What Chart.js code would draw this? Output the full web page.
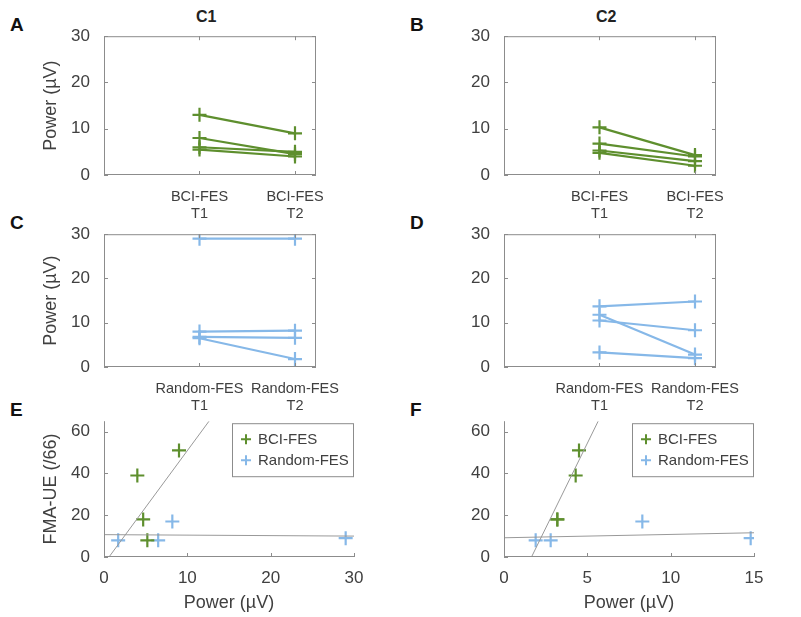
<!DOCTYPE html>
<html lang="en">
<head>
<meta charset="UTF-8">
<title>Power panels</title>
<script src="https://cdn.jsdelivr.net/npm/chart.js"></script>
<style>
  body { margin: 0; background: #fff; font-family: "Liberation Sans", Arial, sans-serif; }
  .box { position: absolute; }
  .lab { position: absolute; font-weight: bold; font-size: 19px; color: #111; }
  .ttl { position: absolute; font-weight: bold; font-size: 16px; color: #222; }
</style>
</head>
<body>
<div class="lab" style="left:10px;top:14px">A</div>
<div class="lab" style="left:410px;top:14px">B</div>
<div class="lab" style="left:10px;top:212px">C</div>
<div class="lab" style="left:410px;top:212px">D</div>
<div class="lab" style="left:10px;top:399px">E</div>
<div class="lab" style="left:410px;top:399px">F</div>
<div class="ttl" style="left:196px;top:8px">C1</div>
<div class="ttl" style="left:596px;top:8px">C2</div>

<div class="box" style="left:40px;top:27px;width:320px;height:200px"><canvas id="cA"></canvas></div>
<div class="box" style="left:440px;top:27px;width:320px;height:200px"><canvas id="cB"></canvas></div>
<div class="box" style="left:40px;top:225px;width:320px;height:194px"><canvas id="cC"></canvas></div>
<div class="box" style="left:440px;top:225px;width:320px;height:194px"><canvas id="cD"></canvas></div>
<div class="box" style="left:40px;top:412px;width:330px;height:204px"><canvas id="cE"></canvas></div>
<div class="box" style="left:440px;top:412px;width:330px;height:204px"><canvas id="cF"></canvas></div>

<script>
// panel A/B (BCI-FES), C/D (Random-FES): T1 -> T2 power per subject
const c1BciT1 = [13, 8, 6, 5.5];
const c1BciT2 = [9, 4.5, 5, 4];
const c2BciT1 = [10.3, 6.8, 5.3, 4.8];
const c2BciT2 = [4.3, 4, 3, 2];
const c1RndT1 = [29, 8, 6.8, 6.5];
const c1RndT2 = [29, 8.2, 6.6, 1.8];
const c2RndT1 = [13.7, 10.5, 11.8, 3.3];
const c2RndT2 = [14.8, 8.3, 2.8, 2.0];
const bciLabels = [['BCI-FES', 'T1'], ['BCI-FES', 'T2']];
const rndLabels = [['Random-FES', 'T1'], ['Random-FES', 'T2']];
const powerTicks = [0, 10, 20, 30];

// panel E/F: power vs FMA-UE
const eBciPow = [4, 4.7, 5.2, 9];
const eBciFma = [39, 18, 8, 51];
const eRndPow = [1.7, 6.5, 8.2, 29];
const eRndFma = [8, 8, 17, 9];
const eBciFit = [[0.6, 0], [12.6, 65]];
const eRndFit = [[0, 10.7], [30, 10]];
const fBciPow = [3.2, 4.3, 4.5, 3.2];
const fBciFma = [18, 39, 51, 18];
const fRndPow = [1.9, 2.8, 8.3, 14.8];
const fRndFma = [8, 8, 17, 9];
const fBciFit = [[1.65, 0], [5.65, 65]];
const fRndFit = [[0, 9.2], [15, 11.6]];

const GREEN = '#5e8f2e';
const BLUE = '#86b8e8';
const AXIS = '#8c8c8c';
const TXT = '#404040';
const FAM = '"Liberation Sans", Arial, sans-serif';
const FONT = { family: FAM, size: 17 };
const CATFONT = { family: FAM, size: 14.5 };

const framePlugin = {
  id: 'frame',
  afterDraw(chart, args, opts) {
    const a = chart.chartArea, ctx = chart.ctx;
    ctx.save();
    ctx.strokeStyle = AXIS;
    ctx.lineWidth = 1;
    if (opts.box) ctx.strokeRect(a.left + 0.5, a.top + 0.5, a.width - 1, a.height - 1);
    else {
      ctx.beginPath();
      ctx.moveTo(a.left + 0.5, a.top); ctx.lineTo(a.left + 0.5, a.bottom - 0.5); ctx.lineTo(a.right, a.bottom - 0.5);
      ctx.stroke();
    }
    const ys = chart.scales.y;
    ctx.beginPath();
    ys.ticks.forEach(t => {
      const p = Math.round(ys.getPixelForValue(t.value)) + 0.5;
      ctx.moveTo(a.left, p); ctx.lineTo(a.left + 4, p);
      if (opts.box) { ctx.moveTo(a.right, p); ctx.lineTo(a.right - 4, p); }
    });
    const xs = chart.scales.x;
    xs.ticks.forEach(t => {
      const p = Math.round(xs.getPixelForValue(t.value)) + 0.5;
      ctx.moveTo(p, a.bottom); ctx.lineTo(p, a.bottom - 4);
      if (opts.box) { ctx.moveTo(p, a.top); ctx.lineTo(p, a.top + 4); }
    });
    ctx.stroke();
    if (opts.legend) {
      const lx = a.right - 122, ly = a.top + 2, w = 122, h = 54;
      ctx.fillStyle = '#fff';
      ctx.fillRect(lx, ly, w, h);
      ctx.strokeRect(lx + 0.5, ly + 0.5, w - 1, h - 1);
      ctx.font = '15px ' + FAM;
      ctx.textBaseline = 'middle';
      [['BCI-FES', GREEN], ['Random-FES', BLUE]].forEach((it, i) => {
        const cy = ly + 16 + i * 21;
        ctx.strokeStyle = it[1]; ctx.lineWidth = 2;
        ctx.beginPath();
        ctx.moveTo(lx + 9, cy); ctx.lineTo(lx + 19, cy);
        ctx.moveTo(lx + 14, cy - 5); ctx.lineTo(lx + 14, cy + 5);
        ctx.stroke();
        ctx.fillStyle = TXT;
        ctx.fillText(it[0], lx + 26, cy + 1);
      });
    }
    ctx.restore();
  }
};

function fixWidth(w) { return s => { s.width = w; s.paddingTop = 0; s.paddingBottom = 0; }; }
function fixHeight(h) { return s => { s.height = h; s.paddingLeft = 0; s.paddingRight = 0; }; }

function pairedChart(id, t1, t2, labels, color, yTitle, xH) {
  const datasets = t1.map((v, i) => ({
    data: [{ x: 1, y: v }, { x: 2, y: t2[i] }],
    borderColor: color, backgroundColor: color, borderWidth: 2.2,
    pointStyle: 'cross', pointRadius: 7, pointBorderWidth: 2.2
  }));
  new Chart(document.getElementById(id), {
    type: 'line',
    data: { datasets },
    options: {
      responsive: true, maintainAspectRatio: false, animation: false,
      layout: { padding: { top: 8, right: 44 } },
      plugins: { legend: { display: false }, tooltip: { enabled: false }, frame: { box: true } },
      scales: {
        x: {
          type: 'linear', min: 0, max: 2.22,
          afterBuildTicks: s => { s.ticks = [{ value: 1 }, { value: 2 }]; },
          afterFit: fixHeight(xH),
          grid: { display: false }, border: { display: false },
          ticks: { color: TXT, font: CATFONT, maxRotation: 0, padding: 5, autoSkip: false,
                   callback: v => labels[v - 1] }
        },
        y: {
          min: 0, max: 30,
          afterBuildTicks: s => { s.ticks = powerTicks.map(v => ({ value: v })); },
          afterFit: fixWidth(64),
          grid: { display: false }, border: { display: false },
          ticks: { color: TXT, font: FONT, padding: 6 },
          title: { display: !!yTitle, text: yTitle, color: TXT, font: { ...FONT, size: 18 }, padding: 0 }
        }
      }
    },
    plugins: [framePlugin]
  });
}

function scatterChart(id, bp, bf, rp, rf, bFit, rFit, xMax, xTicks, yTitle) {
  const pts = (p, f) => p.map((v, i) => ({ x: v, y: f[i] }));
  const fit = f => f.map(q => ({ x: q[0], y: q[1] }));
  new Chart(document.getElementById(id), {
    type: 'scatter',
    data: {
      datasets: [
        { data: fit(bFit), showLine: true, borderColor: '#999', borderWidth: 1, pointRadius: 0 },
        { data: fit(rFit), showLine: true, borderColor: '#999', borderWidth: 1, pointRadius: 0 },
        { data: pts(bp, bf), borderColor: GREEN, pointStyle: 'cross', pointRadius: 7, pointBorderWidth: 2.2 },
        { data: pts(rp, rf), borderColor: BLUE, pointStyle: 'cross', pointRadius: 7, pointBorderWidth: 2.2 }
      ]
    },
    options: {
      responsive: true, maintainAspectRatio: false, animation: false,
      layout: { padding: { top: 8, right: 16 } },
      plugins: { legend: { display: false }, tooltip: { enabled: false }, frame: { box: false, legend: true } },
      scales: {
        x: {
          type: 'linear', min: 0, max: xMax,
          afterBuildTicks: s => { s.ticks = xTicks.map(v => ({ value: v })); },
          afterFit: fixHeight(59),
          grid: { display: false }, border: { display: false },
          ticks: { color: TXT, font: FONT, maxRotation: 0, padding: 3 },
          title: { display: true, text: 'Power (µV)', color: TXT, font: { ...FONT, size: 18 }, padding: 2 }
        },
        y: {
          min: 0, max: 65,
          afterBuildTicks: s => { s.ticks = [0, 20, 40, 60].map(v => ({ value: v })); },
          afterFit: fixWidth(64),
          grid: { display: false }, border: { display: false },
          ticks: { color: TXT, font: FONT, padding: 6 },
          title: { display: !!yTitle, text: yTitle, color: TXT, font: { ...FONT, size: 18 }, padding: 0 }
        }
      }
    },
    plugins: [framePlugin]
  });
}

pairedChart('cA', c1BciT1, c1BciT2, bciLabels, GREEN, 'Power (µV)', 52);
pairedChart('cB', c2BciT1, c2BciT2, bciLabels, GREEN, '', 52);
pairedChart('cC', c1RndT1, c1RndT2, rndLabels, BLUE, 'Power (µV)', 52);
pairedChart('cD', c2RndT1, c2RndT2, rndLabels, BLUE, '', 52);
scatterChart('cE', eBciPow, eBciFma, eRndPow, eRndFma, eBciFit, eRndFit, 30, [0, 10, 20, 30], 'FMA-UE (/66)');
scatterChart('cF', fBciPow, fBciFma, fRndPow, fRndFma, fBciFit, fRndFit, 15, [0, 5, 10, 15], '');
</script>
</body>
</html>
